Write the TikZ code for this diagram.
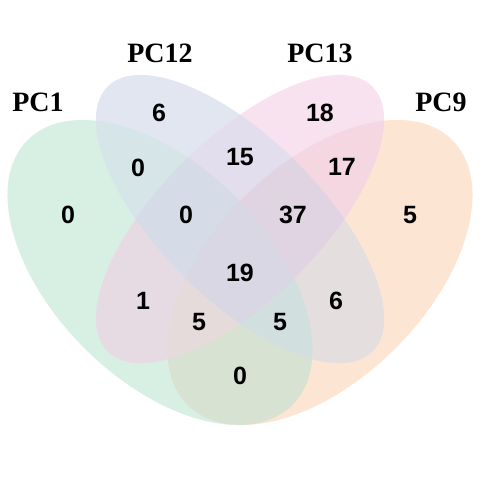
\documentclass[tikz,border=0pt]{standalone}
\usepackage{fontspec}
\setmainfont{Liberation Serif}
\newfontfamily\numfont{Liberation Sans}
% region colours (opaque, as rendered in the reference)
\definecolor{rG}{RGB}{216,239,228}
\definecolor{rB}{RGB}{226,230,241}
\definecolor{rP}{RGB}{248,226,240}
\definecolor{rO}{RGB}{253,229,211}
\definecolor{rGB}{RGB}{213,229,232}
\definecolor{rGP}{RGB}{230,219,227}
\definecolor{rGO}{RGB}{216,226,210}
\definecolor{rBP}{RGB}{227,222,238}
\definecolor{rBO}{RGB}{228,222,223}
\definecolor{rPO}{RGB}{244,215,224}
\definecolor{rGBP}{RGB}{213,220,231}
\definecolor{rGBO}{RGB}{209,223,222}
\definecolor{rGPO}{RGB}{229,219,219}
\definecolor{rBPO}{RGB}{224,212,226}
\definecolor{rGBPO}{RGB}{218,215,228}
\newcommand\vClipG{\clip[rotate around={135:(160,207.5)}] (160,207.5) ellipse [x radius=187.25pt, y radius=107pt];}
\newcommand\vClipB{\clip[rotate around={135:(240,261)}] (240,261) ellipse [x radius=187.25pt, y radius=80.25pt];}
\newcommand\vClipP{\clip[rotate around={45:(240,261)}] (240,261) ellipse [x radius=187.25pt, y radius=80.25pt];}
\newcommand\vClipO{\clip[rotate around={45:(320,207.5)}] (320,207.5) ellipse [x radius=187.25pt, y radius=107pt];}
\newcommand\vFillG[1]{\fill[#1, rotate around={135:(160,207.5)}] (160,207.5) ellipse [x radius=187.25pt, y radius=107pt];}
\newcommand\vFillB[1]{\fill[#1, rotate around={135:(240,261)}] (240,261) ellipse [x radius=187.25pt, y radius=80.25pt];}
\newcommand\vFillP[1]{\fill[#1, rotate around={45:(240,261)}] (240,261) ellipse [x radius=187.25pt, y radius=80.25pt];}
\newcommand\vFillO[1]{\fill[#1, rotate around={45:(320,207.5)}] (320,207.5) ellipse [x radius=187.25pt, y radius=107pt];}
\begin{document}
\begin{tikzpicture}[x=1pt,y=1pt,
  num/.style={font=\numfont\bfseries\fontsize{25}{25}\selectfont, inner sep=0pt},
  cat/.style={font=\bfseries\fontsize{28}{28}\selectfont, inner sep=0pt}]
\useasboundingbox (0,0) rectangle (480,480);
% single sets
\vFillG{rG}
\vFillO{rO}
\vFillB{rB}
\vFillP{rP}
% pairs
\begin{scope}\vClipG\vFillB{rGB}\end{scope}
\begin{scope}\vClipG\vFillP{rGP}\end{scope}
\begin{scope}\vClipG\vFillO{rGO}\end{scope}
\begin{scope}\vClipB\vFillP{rBP}\end{scope}
\begin{scope}\vClipB\vFillO{rBO}\end{scope}
\begin{scope}\vClipP\vFillO{rPO}\end{scope}
% triples
\begin{scope}\vClipG\vClipB\vFillP{rGBP}\end{scope}
\begin{scope}\vClipG\vClipB\vFillO{rGBO}\end{scope}
\begin{scope}\vClipG\vClipP\vFillO{rGPO}\end{scope}
\begin{scope}\vClipB\vClipP\vFillO{rBPO}\end{scope}
% all four
\begin{scope}\vClipG\vClipB\vClipP\vFillO{rGBPO}\end{scope}
% category labels
\node[cat] (lA) at (38,378) {PC1};
\node[cat] (lB) at (160,427) {PC12};
\node[cat] (lC) at (320,427) {PC13};
\node[cat] (lD) at (441,378) {PC9};
% counts
\node[num] (n1) at (68,265) {0};
\node[num] (n2) at (159,367) {6};
\node[num] (n3) at (138,312) {0};
\node[num] (n4) at (186,265) {0};
\node[num] (n5) at (240,323) {15};
\node[num] (n6) at (320,367) {18};
\node[num] (n7) at (342,313) {17};
\node[num] (n8) at (293,265) {37};
\node[num] (n9) at (410,265) {5};
\node[num] (n10) at (240,207) {19};
\node[num] (n11) at (143,179) {1};
\node[num] (n12) at (199,158) {5};
\node[num] (n13) at (240,104) {0};
\node[num] (n14) at (280,158) {5};
\node[num] (n15) at (336,179) {6};
\end{tikzpicture}
\end{document}
